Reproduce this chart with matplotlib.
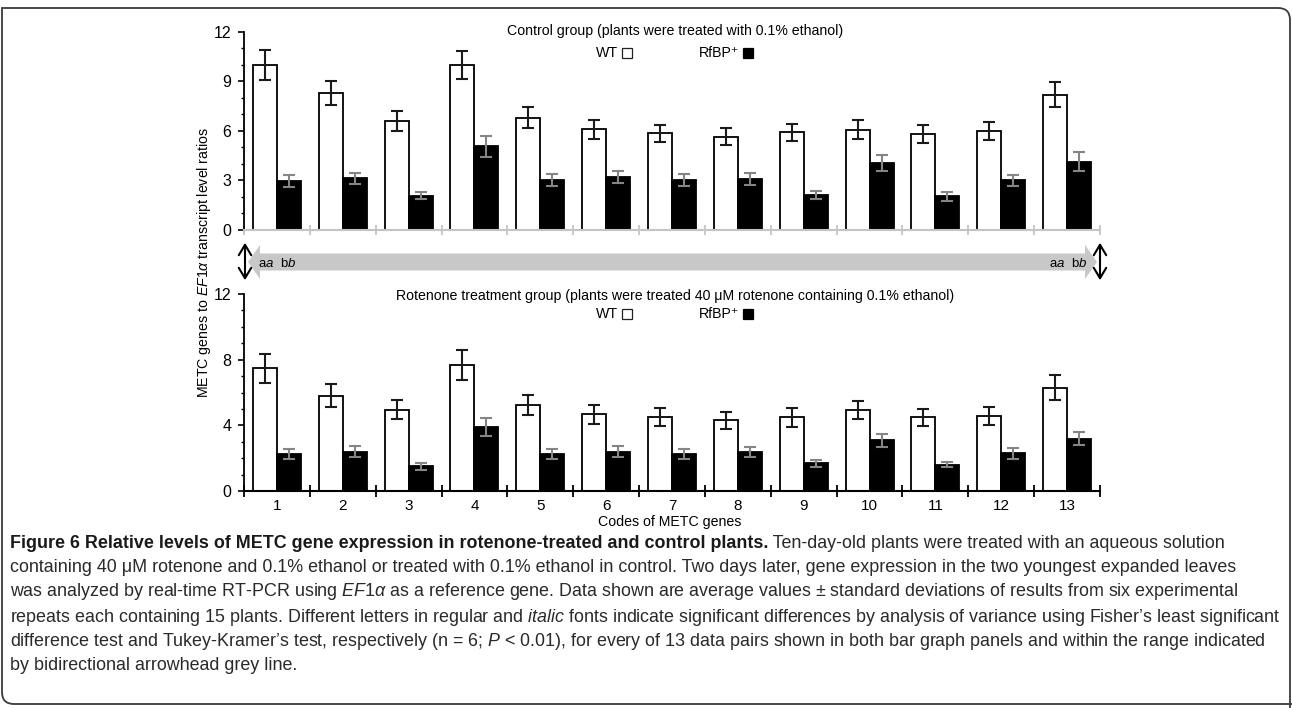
import numpy as np
import matplotlib
matplotlib.use("Agg")
import matplotlib.pyplot as plt
from matplotlib import font_manager
from matplotlib.patches import Polygon, PathPatch, FancyArrowPatch
from matplotlib.lines import Line2D
from matplotlib.path import Path

# ------------------------------------------------------------------------------
# data (ratios to EF1a, mean +- sd)

genes = [str(i) for i in range(1, 14)]

ctrl_wt    = [10.0, 8.3, 6.6, 10.0, 6.8, 6.1, 5.85, 5.65, 5.9, 6.05, 5.8, 6.0, 8.2]
ctrl_wt_sd = [0.92, 0.75, 0.63, 0.87, 0.63, 0.58, 0.52, 0.54, 0.53, 0.58, 0.55, 0.54, 0.76]
ctrl_rf    = [2.95, 3.1, 2.05, 5.05, 3.0, 3.2, 3.0, 3.08, 2.1, 4.05, 2.03, 2.98, 4.13]
ctrl_rf_sd = [0.35, 0.35, 0.22, 0.63, 0.35, 0.38, 0.35, 0.36, 0.23, 0.49, 0.27, 0.36, 0.55]

rot_wt     = [7.48, 5.81, 4.96, 7.66, 5.22, 4.68, 4.5, 4.3, 4.48, 4.92, 4.48, 4.56, 6.3]
rot_wt_sd  = [0.89, 0.72, 0.57, 0.92, 0.61, 0.57, 0.53, 0.53, 0.58, 0.56, 0.54, 0.53, 0.75]
rot_rf     = [2.24, 2.4, 1.51, 3.91, 2.24, 2.4, 2.24, 2.38, 1.68, 3.1, 1.6, 2.3, 3.18]
rot_rf_sd  = [0.32, 0.34, 0.22, 0.54, 0.32, 0.34, 0.32, 0.33, 0.2, 0.4, 0.14, 0.33, 0.4]

# ------------------------------------------------------------------------------

plt.rcParams["font.family"] = ["Liberation Sans", "DejaVu Sans"]
plt.rcParams["mathtext.fontset"] = "custom"
plt.rcParams["mathtext.rm"] = "Liberation Sans"
plt.rcParams["mathtext.it"] = "Liberation Sans:italic"
plt.rcParams["mathtext.bf"] = "Liberation Sans:bold"

W, H = 1292, 708
FS = 10.2

def fx(x):
  return x / W

def fy(y):
  return 1 - y / H

def box(l, t, r, b):
  return [l/W, 1 - b/H, (r - l)/W, (b - t)/H]

fig = plt.figure(figsize=(W/100, H/100), dpi=100)

def panel(ax, wt, wt_sd, rf, rf_sd, ymax, step, axis_color):
  x = np.arange(len(genes)) + 0.5
  bw = 0.365
  ax.bar(x - bw/2, wt, bw, color="white", edgecolor="black", lw=1.3, zorder=2)
  ax.errorbar(x - bw/2, wt, yerr=wt_sd, fmt="none", ecolor="#1a1a1a",
              elinewidth=1.5, capsize=4.3, capthick=1.5, zorder=3)
  ax.bar(x + bw/2, rf, bw, color="black", edgecolor="black", lw=1.3, zorder=2)
  ax.errorbar(x + bw/2, rf, yerr=rf_sd, fmt="none", ecolor="#858585",
              elinewidth=1.5, capsize=4.3, capthick=1.5, zorder=3)
  ax.set_xlim(0, len(genes))
  ax.set_ylim(0, ymax)
  ax.set_yticks(np.arange(0, ymax + 0.1, step))
  ax.set_yticks(np.arange(0, ymax + 0.1, 1), minor=True)
  ax.tick_params(axis="y", which="major", direction="out", length=4, width=1.2,
                 labelsize=11.5, pad=5)
  ax.tick_params(axis="y", which="minor", direction="out", length=2.5, width=1)
  for s in ["top", "right"]:
    ax.spines[s].set_visible(False)
  ax.spines["left"].set_linewidth(1.3)
  ax.spines["bottom"].set_color(axis_color)
  ax.spines["bottom"].set_linewidth(1.5)
  ax.set_xticks(np.arange(0, len(genes) + 1))
  ax.set_xticks(x, minor=True)
  ax.patch.set_alpha(0)

ax1 = fig.add_axes(box(244, 32, 1100, 229.5))
panel(ax1, ctrl_wt, ctrl_wt_sd, ctrl_rf, ctrl_rf_sd, 12, 3, "#c4c4c4")
ax1.tick_params(axis="x", which="major", direction="inout", length=7, width=1.3,
                color="#c4c4c4", labelbottom=False)
ax1.tick_params(axis="x", which="minor", length=0, labelbottom=False)

ax2 = fig.add_axes(box(244, 294, 1100, 491))
panel(ax2, rot_wt, rot_wt_sd, rot_rf, rot_rf_sd, 12, 4, "black")
ax2.tick_params(axis="x", which="major", direction="inout", length=8, width=1.3,
                labelbottom=False)
ax2.tick_params(axis="x", which="minor", length=0, labelsize=11, pad=6)
ax2.set_xticklabels(genes, minor=True)

# titles and legends
fig.text(fx(675), fy(31), "Control group (plants were treated with 0.1% ethanol)",
         ha="center", va="center", fontsize=FS)
fig.text(fx(675), fy(296),
         "Rotenone treatment group (plants were treated 40 μM rotenone containing 0.1% ethanol)",
         ha="center", va="center", fontsize=FS)
for y in [53, 314]:
  fig.text(fx(596), fy(y), "WT", ha="left", va="center", fontsize=FS)
  fig.text(fx(699), fy(y), "RfBP\u207a", ha="left", va="center", fontsize=FS)
  fig.add_artist(Line2D([fx(627)], [fy(y)], marker="s", ms=7.6, mfc="white",
                        mec="#222222", mew=0.9, transform=fig.transFigure))
  fig.add_artist(Line2D([fx(747.5)], [fy(y)], marker="s", ms=7.6, mfc="black",
                        mec="black", mew=0.9, transform=fig.transFigure))

fig.text(fx(204), fy(262), "METC genes to $\\mathit{EF1α}$ transcript level ratios",
         rotation=90, ha="center", va="center", fontsize=FS)
fig.text(fx(670), fy(522), "Codes of METC genes", ha="center", va="center", fontsize=FS)

# grey range band with arrowheads and the double arrows
band = [(248, 262), (260, 245), (260, 253.5), (1085, 253.5), (1085, 245), (1097, 262),
        (1085, 279), (1085, 270.5), (260, 270.5), (260, 279)]
fig.patches.append(Polygon([(fx(a), fy(b)) for a, b in band], closed=True,
                           transform=fig.transFigure, facecolor="#c8c8c8",
                           edgecolor="none", zorder=1))
for xa in [245, 1100]:
  fig.patches.append(FancyArrowPatch(
      (fx(xa), fy(240)), (fx(xa), fy(283)), transform=fig.transFigure,
      arrowstyle="<->,head_length=5,head_width=3", color="black", lw=1.5,
      mutation_scale=1.5))
letters = "a$\\mathit{a}$  b$\\mathit{b}$"
fig.text(fx(258), fy(263), letters, ha="left", va="center", fontsize=9.5, zorder=3)
fig.text(fx(1087), fy(263), letters, ha="right", va="center", fontsize=9.5, zorder=3)

# frame (rounded top-right and bottom-left corners)
r = 12
frame = Path([(fx(1290), fy(712)), (fx(1290), fy(8 + r)), (fx(1290), fy(8)),
              (fx(1290 - r), fy(8)), (fx(2), fy(8)), (fx(2), fy(704 - r)),
              (fx(2), fy(704)), (fx(2 + r), fy(704)), (fx(1292), fy(704))],
             [Path.MOVETO, Path.LINETO, Path.CURVE3, Path.CURVE3, Path.LINETO,
              Path.LINETO, Path.CURVE3, Path.CURVE3, Path.LINETO])
fig.patches.append(PathPatch(frame, transform=fig.transFigure, fill=False,
                             edgecolor="#3a3a3a", lw=1.3))

# caption
names = {f.name for f in font_manager.fontManager.ttflist}
if "Liberation Sans Narrow" in names:
  cap_family = ["Liberation Sans Narrow", "Liberation Sans", "DejaVu Sans"]
else:
  cap_family = ["Liberation Sans", "DejaVu Sans"]

cap_bold = "Figure 6 Relative levels of METC gene expression in rotenone-treated and control plants."
cap_lines = [
  " Ten-day-old plants were treated with an aqueous solution",
  "containing 40 μM rotenone and 0.1% ethanol or treated with 0.1% ethanol in control. Two days later, gene expression in the two youngest expanded leaves",
  "was analyzed by real-time RT-PCR using $\\mathit{EF1α}$ as a reference gene. Data shown are average values ± standard deviations of results from six experimental",
  "repeats each containing 15 plants. Different letters in regular and $\\mathit{italic}$ fonts indicate significant differences by analysis of variance using Fisher’s least significant",
  "difference test and Tukey-Kramer’s test, respectively (n = 6; $\\mathit{P}$ < 0.01), for every of 13 data pairs shown in both bar graph panels and within the range indicated",
  "by bidirectional arrowhead grey line.",
]
cap_y = [543, 567, 592, 617, 641, 666]
cap_color = "#2a2a2a"
base = 12
tb = fig.text(fx(10), fy(cap_y[0]), cap_bold, ha="left", va="center", fontsize=base,
              family=cap_family, weight="bold", color="#1a1a1a")
texts = [tb]
texts.append(plt.annotate(cap_lines[0], xy=(1, 0.5), xycoords=tb, ha="left", va="center",
                          fontsize=base, family=cap_family, color=cap_color,
                          annotation_clip=False))
for s, y in zip(cap_lines[1:], cap_y[1:]):
  texts.append(fig.text(fx(10), fy(y), s, ha="left", va="center", fontsize=base,
                        family=cap_family, color=cap_color))

# fit the caption width to the reference (line 4 spans to x ~ 1280)
rend = fig.canvas.get_renderer()
w = texts[4].get_window_extent(rend).width
scale = (1280 - 10) / w
for t in texts:
  t.set_fontsize(base * scale)

plt.savefig("out.png", dpi=100)
